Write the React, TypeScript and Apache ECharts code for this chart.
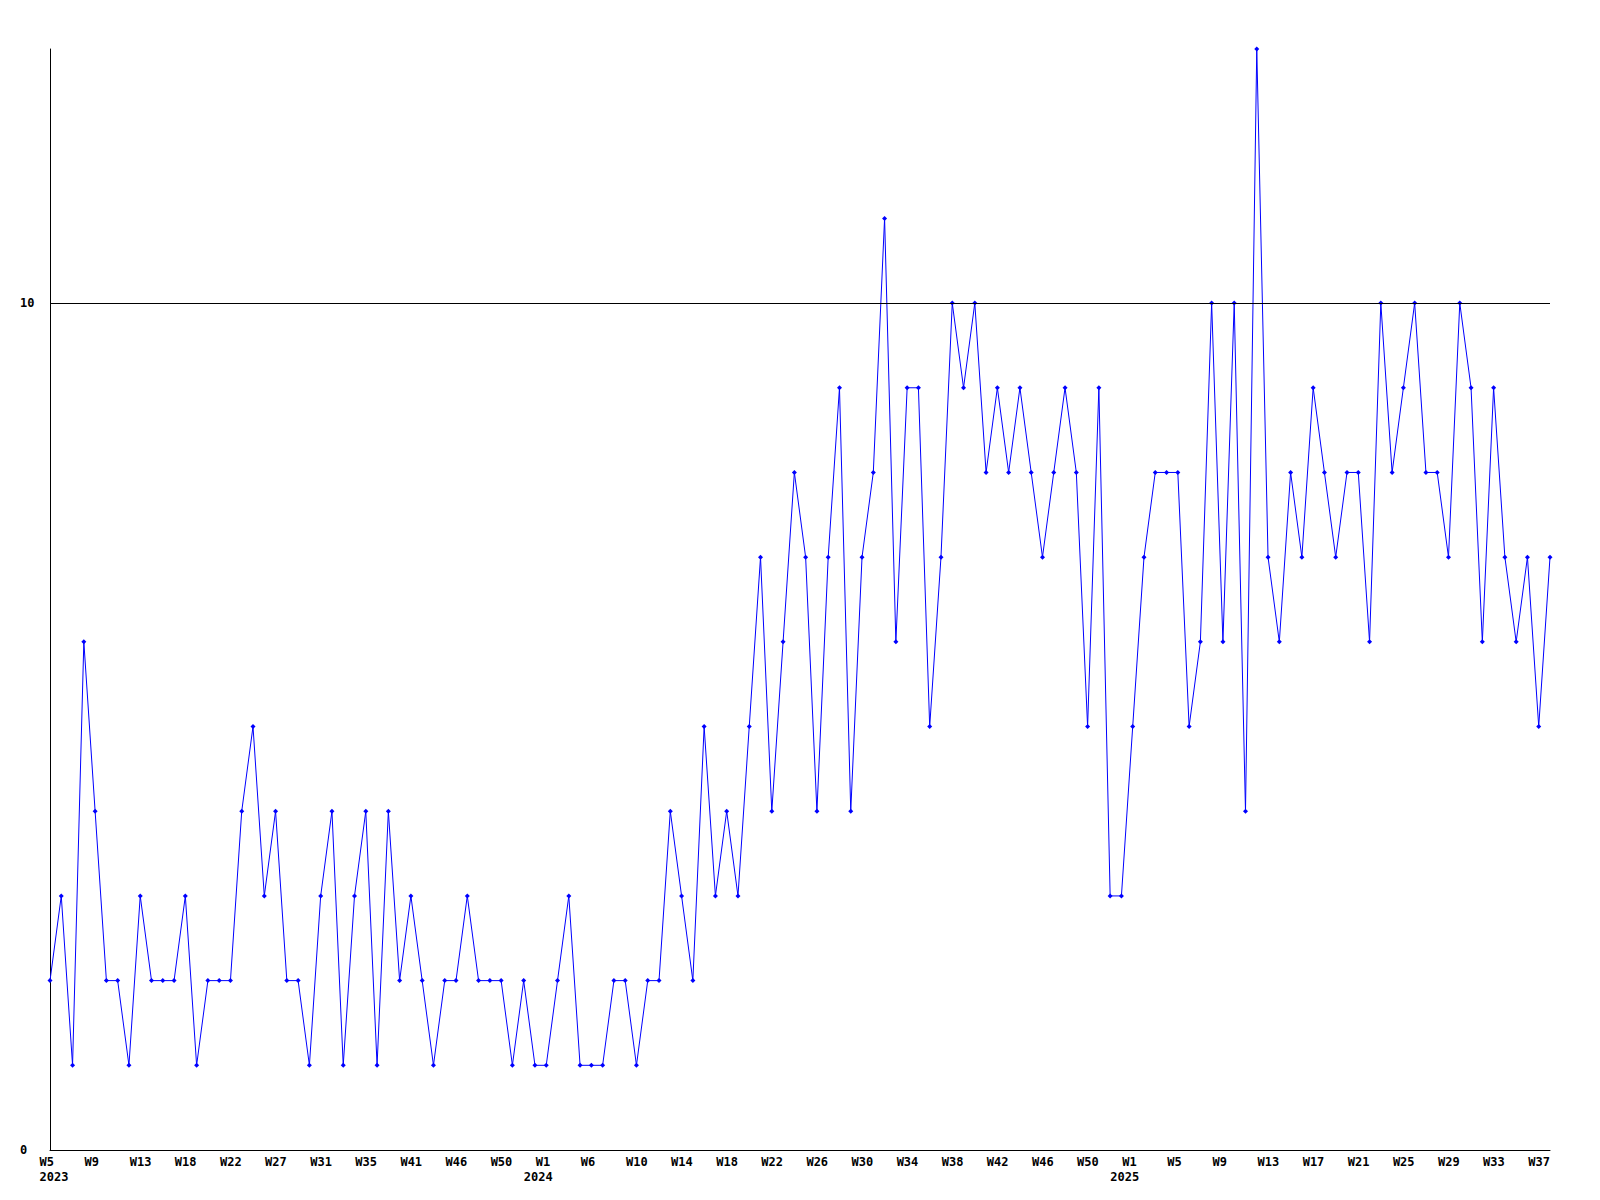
import React, { useEffect, useRef } from "react";
import * as echarts from "echarts";

// Week numbers of each data point, per year
const weeks2023 = [5, 6, 7, 8, 9, 10, 11, 12, 13, 14, 15, 17, 18, 19, 20, 21, 22, 23, 24, 26, 27, 28, 29, 30, 31, 32, 33, 34, 35, 37, 39, 40, 41, 42, 43, 45, 46, 47, 48, 49, 50, 51, 52, 53];
const weeks2024 = [1, 2, 3, 5, 6, 7, 8, 9, 10, 11, 12, 13, 14, 15, 16, 17, 18, 19, 20, 21, 22, 23, 24, 25, 26, 27, 28, 29, 30, 31, 32, 33, 34, 35, 36, 37, 38, 39, 40, 41, 42, 43, 44, 45, 46, 47, 48, 49, 50, 51, 52, 53];
const weeks2025 = [1, 2, 3, 4, 5, 6, 7, 8, 9, 10, 11, 12, 13, 14, 15, 16, 17, 18, 19, 20, 21, 22, 23, 24, 25, 26, 27, 28, 29, 30, 31, 32, 33, 34, 35, 36, 37, 38];

const yearNames = ["2023", "2024", "2025"];

const counts = [
  2, 3, 1, 6, 4, 2, 2, 1, 3, 2,
  2, 2, 3, 1, 2, 2, 2, 4, 5, 3,
  4, 2, 2, 1, 3, 4, 1, 3, 4, 1,
  4, 2, 3, 2, 1, 2, 2, 3, 2, 2,
  2, 1, 2, 1, 1, 2, 3, 1, 1, 1,
  2, 2, 1, 2, 2, 4, 3, 2, 5, 3,
  4, 3, 5, 7, 4, 6, 8, 7, 4, 7,
  9, 4, 7, 8, 11, 6, 9, 9, 5, 7,
  10, 9, 10, 8, 9, 8, 9, 8, 7, 8,
  9, 8, 5, 9, 3, 3, 5, 7, 8, 8,
  8, 5, 6, 10, 6, 10, 4, 13, 7, 6,
  8, 7, 9, 8, 7, 8, 8, 6, 10, 8,
  9, 10, 8, 8, 7, 10, 9, 6, 9, 7,
  6, 7, 5, 7,
];

const yTickLabels = ["0", "10"];

const categories = [
  ...weeks2023.map((w) => `W${w}`),
  ...weeks2024.map((w) => `W${w}`),
  ...weeks2025.map((w) => `W${w}`),
];
const yearStartIndex = [0, weeks2023.length, weeks2023.length + weeks2024.length];

const FONT = "DejaVu Sans Mono";

export default function App() {
  const ref = useRef<HTMLDivElement>(null);
  useEffect(() => {
    const chart = echarts.init(ref.current as HTMLDivElement, null, { renderer: "svg" });
    const textStyle = { fontFamily: FONT, fontWeight: "bold", fontSize: 12, lineHeight: 15, color: "#000" };
    chart.setOption({
      animation: false,
      backgroundColor: "#ffffff",
      grid: { left: 50, right: 50, top: 49, bottom: 50, containLabel: false },
      xAxis: {
        type: "category",
        data: categories,
        boundaryGap: false,
        axisLine: { show: true, lineStyle: { color: "#000", width: 1 } },
        axisTick: { show: false },
        splitLine: { show: false },
        axisLabel: {
          interval: 3,
          margin: 4,
          ...textStyle,
          formatter: (value: string, index: number) => {
            const k = yearStartIndex.indexOf(index);
            if (k < 0) return `{w|${value}}`;
            return k === 0 ? `{w|${value}}\n{w|${yearNames[k]}}` : `{w|${value}}\n{y|${yearNames[k]}}`;
          },
          rich: {
            w: { ...textStyle, width: 33, padding: [0, 0, 0, 12], align: "left" },
            y: { ...textStyle, width: 45, align: "left" },
          },
        },
      },
      yAxis: {
        type: "value",
        min: 0,
        max: 13,
        interval: 10,
        axisLine: { show: true, lineStyle: { color: "#000", width: 1 } },
        axisTick: { show: false },
        splitLine: { show: false },
        axisLabel: {
          align: "left",
          margin: 30,
          showMaxLabel: false,
          ...textStyle,
          formatter: (v: number) => (yTickLabels.includes(String(v)) ? String(v) : ""),
        },
      },
      series: [
        {
          type: "line",
          data: counts,
          symbol: "diamond",
          symbolSize: 5,
          showAllSymbol: true,
          lineStyle: { color: "#0000ff", width: 1 },
          itemStyle: { color: "#0000ff" },
          emphasis: { disabled: true },
          markLine: {
            silent: true,
            symbol: "none",
            label: { show: false },
            emphasis: { disabled: true },
            lineStyle: { color: "#000", width: 1, type: "solid" },
            data: [{ yAxis: 10 }],
          },
          z: 3,
        },
      ],
    });
    return () => chart.dispose();
  }, []);
  return <div ref={ref} style={{ position: "absolute", left: 0, top: 0, width: 1600, height: 1200 }} />;
}
